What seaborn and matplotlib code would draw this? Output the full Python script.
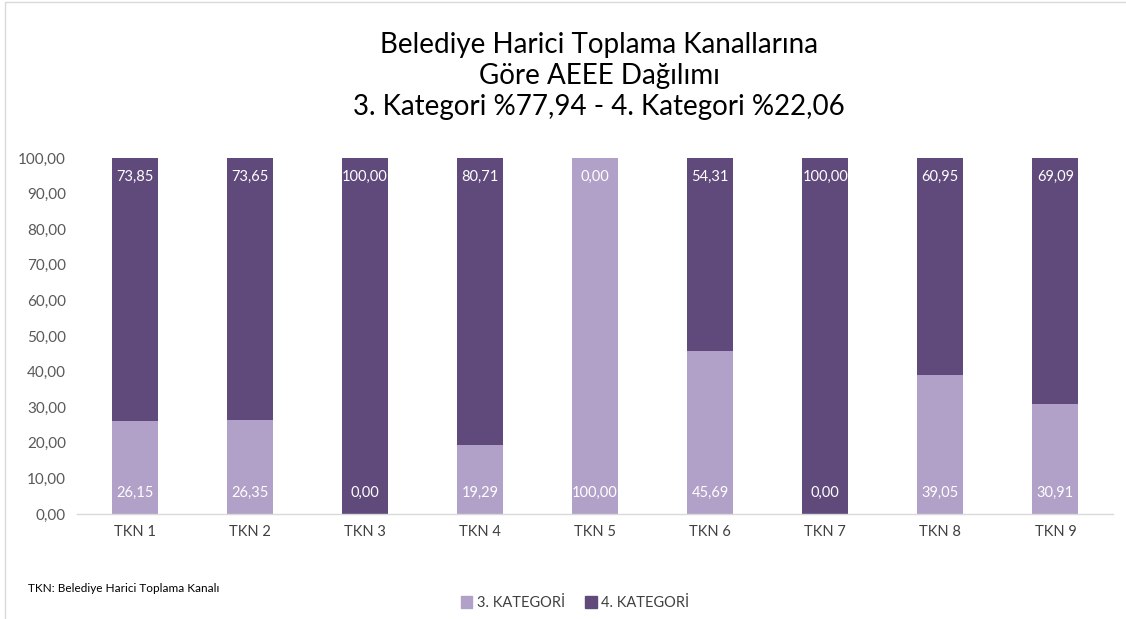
import numpy as np
import pandas as pd
import matplotlib.pyplot as plt
import seaborn as sns
from matplotlib.lines import Line2D
from matplotlib.patches import Patch

# Data
channels = ['TKN 1', 'TKN 2', 'TKN 3', 'TKN 4', 'TKN 5', 'TKN 6', 'TKN 7', 'TKN 8', 'TKN 9']
kat3 = [26.15, 26.35, 0.00, 19.29, 100.00, 45.69, 0.00, 39.05, 30.91]
kat4 = [73.85, 73.65, 100.00, 80.71, 0.00, 54.31, 100.00, 60.95, 69.09]
yticks = [0, 10, 20, 30, 40, 50, 60, 70, 80, 90, 100]

light = '#B1A0C7'
dark = '#604A7B'

sns.set_theme(style='white')
plt.rcParams['font.family'] = ['Lato', 'DejaVu Sans']

df = pd.DataFrame({'kanal': channels, 'k3': kat3, 'k4': kat4})
df['toplam'] = df['k3'] + df['k4']

fig = plt.figure(figsize=(11.26, 6.19), dpi=100)
ax = fig.add_axes([77 / 1126, 1 - 514 / 619, (1113 - 77) / 1126, (514 - 158) / 619])

# stacked bars: full height in dark, 3. kategori drawn over it from the base
sns.barplot(data=df, x='kanal', y='toplam', color=dark, width=0.4, saturation=1,
            linewidth=0, ax=ax)
sns.barplot(data=df, x='kanal', y='k3', color=light, width=0.4, saturation=1,
            linewidth=0, ax=ax)

ax.set_xlim(-0.5, 8.5)
ax.set_ylim(0, 100)
ax.set_yticks(yticks)
ax.set_yticklabels([f'{v:.2f}'.replace('.', ',') for v in yticks], fontsize=11, color='#595959')
ax.tick_params(axis='x', labelsize=10.5, labelcolor='#404040', length=0, pad=8)
ax.tick_params(axis='y', length=0, pad=8)
ax.set_xlabel('')
ax.set_ylabel('')
for s in ['top', 'right', 'left']:
    ax.spines[s].set_visible(False)
ax.spines['bottom'].set_color('#D9D9D9')
ax.spines['bottom'].set_linewidth(1)

# data labels
for i, (a, b) in enumerate(zip(kat3, kat4)):
    ax.text(i, 100 - 5.3, f'{b:.2f}'.replace('.', ','), ha='center', va='center',
            color='white', fontsize=10.5)
    ax.text(i, 5.8, f'{a:.2f}'.replace('.', ','), ha='center', va='center',
            color='white', fontsize=10.5)

# title
fig.text(599 / 1126, 1 - 76 / 619,
         'Belediye Harici Toplama Kanallarına\nGöre AEEE Dağılımı\n3. Kategori %77,94 - 4. Kategori %22,06',
         ha='center', va='center', fontsize=20, color='black', linespacing=1.25)

# footnote and legend
fig.text(28 / 1126, 1 - 588 / 619, 'TKN: Belediye Harici Toplama Kanalı',
         ha='left', va='center', fontsize=8.5, color='black')
handles = [Patch(color=light, label='3. KATEGORİ'), Patch(color=dark, label='4. KATEGORİ')]
fig.legend(handles=handles, loc='center', bbox_to_anchor=(575 / 1126, 1 - 603 / 619), ncol=2,
           frameon=False, fontsize=10.5, handlelength=0.8, handleheight=0.8,
           handletextpad=0.3, columnspacing=1.4, labelcolor='#404040')

# chart frame lines
fig.add_artist(Line2D([5 / 1126, 5 / 1126], [0, 1 - 2 / 619], color='#D9D9D9', lw=1))
fig.add_artist(Line2D([5 / 1126, 1], [1 - 2 / 619, 1 - 2 / 619], color='#D9D9D9', lw=1))

fig.savefig('out.png', dpi=100)
